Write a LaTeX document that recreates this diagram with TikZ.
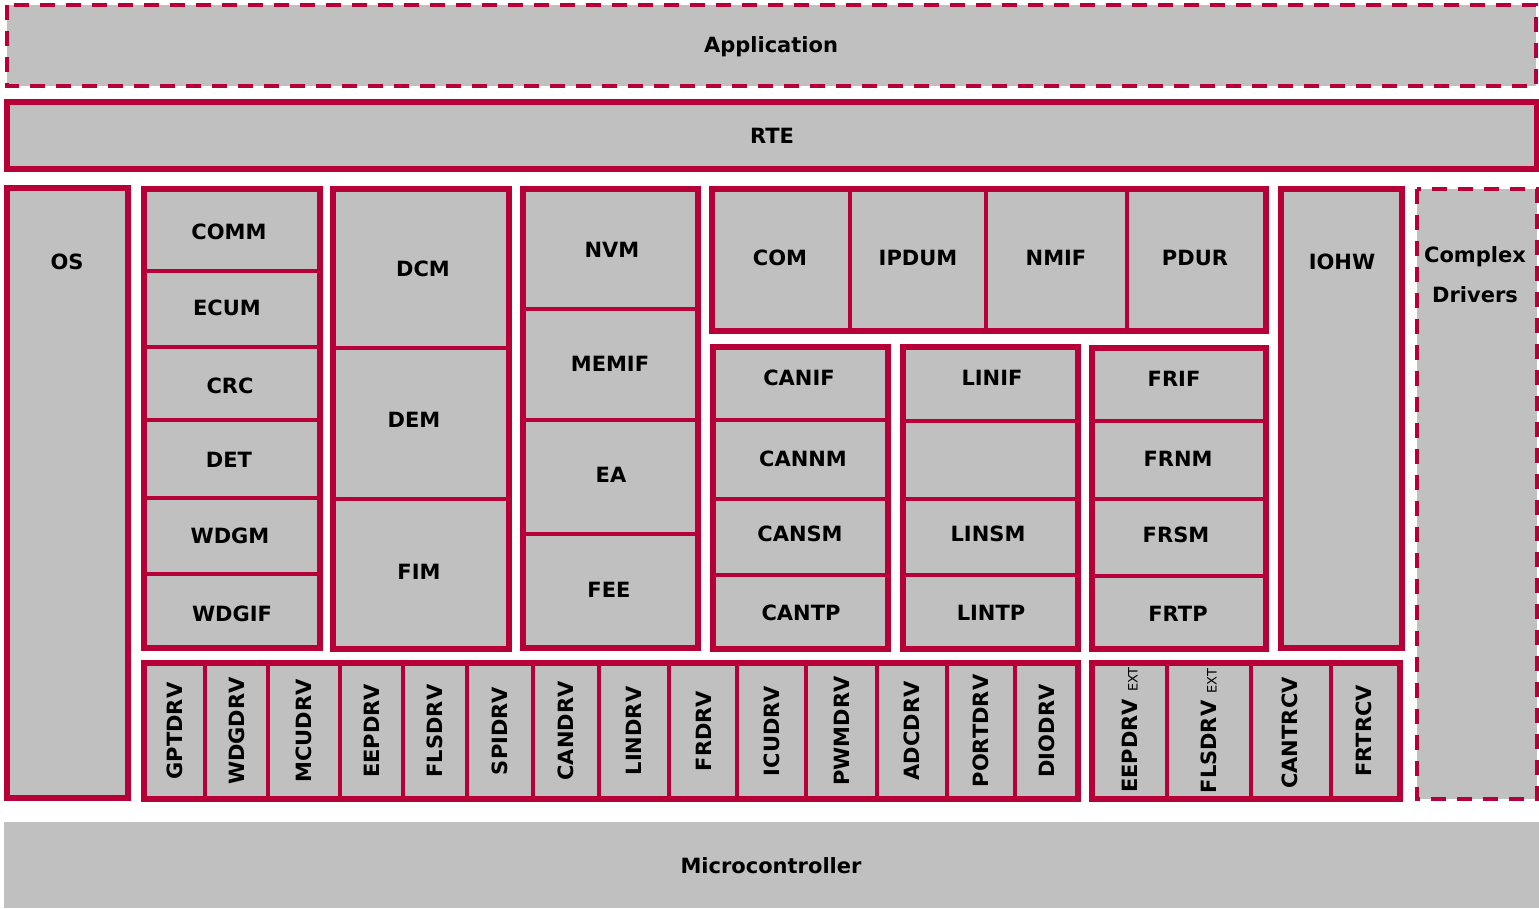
\documentclass[tikz,border=0pt]{standalone}
\usepackage{fontspec}
\setmainfont{DejaVu Sans}
\definecolor{crim}{RGB}{184,0,56}
\definecolor{boxgray}{RGB}{192,192,192}
\newcommand\extmark{\hspace{7pt}{\mdseries\fontsize{13}{14}\selectfont EXT}}
\begin{document}
\begin{tikzpicture}[x=1pt,y=-1pt,
  grp/.style={draw=crim, line width=5.5pt, fill=boxgray},
  frame/.style={draw=crim, line width=5.5pt},
  dsh/.style={draw=crim, line width=4pt, dash pattern=on 15pt off 11pt, fill=boxgray},
  divl/.style={draw=crim, line width=3.5pt},
  lbl/.style={font=\fontsize{21}{25}\selectfont\bfseries, text=black, inner sep=0pt},
  vlbl/.style={lbl, rotate=90}]
\useasboundingbox (0,0) rectangle (1539,909);

% Application
\path[dsh] (7,5) rectangle (1536,86);
\node[lbl] (app) at (771,47) {Application};
% RTE
\path[grp] (7,102) rectangle (1537,169);
\node[lbl] (rte) at (772,136) {RTE};
% OS
\path[grp] (7,188) rectangle (128,798);
\node[lbl] (os) at (67,262) {OS};

% Group: system services
\path[grp] (144,189) rectangle (320,648);
\foreach \y in {271,347,420,498,574} \draw[divl] (144,\y) -- (320,\y);
\path[frame] (144,189) rectangle (320,648);
\node[lbl] (comm) at (229,232) {COMM};
\node[lbl] (ecum) at (227,308) {ECUM};
\node[lbl] (crc) at (230,386) {CRC};
\node[lbl] (det) at (229,460) {DET};
\node[lbl] (wdgm) at (230,536) {WDGM};
\node[lbl] (wdgif) at (232,614) {WDGIF};

% Group: diagnostics
\path[grp] (333,189) rectangle (509,649);
\foreach \y in {348,499} \draw[divl] (333,\y) -- (509,\y);
\path[frame] (333,189) rectangle (509,649);
\node[lbl] (dcm) at (423,269) {DCM};
\node[lbl] (dem) at (414,420) {DEM};
\node[lbl] (fim) at (419,572) {FIM};

% Group: memory
\path[grp] (523,189) rectangle (698,648);
\foreach \y in {309,420,534} \draw[divl] (523,\y) -- (698,\y);
\path[frame] (523,189) rectangle (698,648);
\node[lbl] (nvm) at (612,250) {NVM};
\node[lbl] (memif) at (610,364) {MEMIF};
\node[lbl] (ea) at (611,475) {EA};
\node[lbl] (fee) at (609,590) {FEE};

% Group: communication services
\path[grp] (712,189) rectangle (1266,331);
\foreach \x in {850,986,1127} \draw[divl] (\x,189) -- (\x,331);
\path[frame] (712,189) rectangle (1266,331);
\node[lbl] (com) at (780,258) {COM};
\node[lbl] (ipdum) at (918,258) {IPDUM};
\node[lbl] (nmif) at (1056,258) {NMIF};
\node[lbl] (pdur) at (1195,258) {PDUR};

% Group: CAN
\path[grp] (713,347) rectangle (888,649);
\foreach \y in {420,499,575} \draw[divl] (713,\y) -- (888,\y);
\path[frame] (713,347) rectangle (888,649);
\node[lbl] (canif) at (799,378) {CANIF};
\node[lbl] (cannm) at (803,459) {CANNM};
\node[lbl] (cansm) at (800,534) {CANSM};
\node[lbl] (cantp) at (801,613) {CANTP};

% Group: LIN
\path[grp] (903,347) rectangle (1078,649);
\foreach \y in {421,499,575} \draw[divl] (903,\y) -- (1078,\y);
\path[frame] (903,347) rectangle (1078,649);
\node[lbl] (linif) at (992,378) {LINIF};
\node[lbl] (linsm) at (988,534) {LINSM};
\node[lbl] (lintp) at (991,613) {LINTP};

% Group: FlexRay
\path[grp] (1092,348) rectangle (1266,649);
\foreach \y in {421,499,576} \draw[divl] (1092,\y) -- (1266,\y);
\path[frame] (1092,348) rectangle (1266,649);
\node[lbl] (frif) at (1174,379) {FRIF};
\node[lbl] (frnm) at (1178,459) {FRNM};
\node[lbl] (frsm) at (1176,535) {FRSM};
\node[lbl] (frtp) at (1178,614) {FRTP};

% IOHW
\path[grp] (1281,189) rectangle (1402,648);
\node[lbl] (iohw) at (1342,262) {IOHW};

% Complex drivers
\path[dsh] (1417,189) rectangle (1537,799);
\node[lbl] (cdrv1) at (1475,257) {Complex};
\node[lbl] (cdrv2) at (1475,295) {Drivers};

% Driver row 1
\path[grp] (144,663) rectangle (1078,799);
\foreach \x in {205,268,340,403,467,533,599,669,737,806,877,947,1015} \draw[divl] (\x,663) -- (\x,799);
\path[frame] (144,663) rectangle (1078,799);
\node[vlbl] (gpt) at (174.5,731) {GPTDRV};
\node[vlbl] (wdg) at (236.5,731) {WDGDRV};
\node[vlbl] (mcu) at (304,731) {MCUDRV};
\node[vlbl] (eep) at (371.5,731) {EEPDRV};
\node[vlbl] (fls) at (435,731) {FLSDRV};
\node[vlbl] (spi) at (500,731) {SPIDRV};
\node[vlbl] (can) at (566,731) {CANDRV};
\node[vlbl] (lin) at (634,731) {LINDRV};
\node[vlbl] (fr) at (704,731) {FRDRV};
\node[vlbl] (icu) at (771.5,731) {ICUDRV};
\node[vlbl] (pwm) at (841.5,731) {PWMDRV};
\node[vlbl] (adc) at (912,731) {ADCDRV};
\node[vlbl] (port) at (981,731) {PORTDRV};
\node[vlbl] (dio) at (1046.5,731) {DIODRV};

% Driver row 2
\path[grp] (1092,663) rectangle (1400,799);
\foreach \x in {1167,1251,1331} \draw[divl] (\x,663) -- (\x,799);
\path[frame] (1092,663) rectangle (1400,799);
\node[vlbl] (eepx) at (1130,730) {EEPDRV\extmark};
\node[vlbl] (flsx) at (1209,731) {FLSDRV\extmark};
\node[vlbl] (cantrcv) at (1290,733) {CANTRCV};
\node[vlbl] (frtrcv) at (1364,731) {FRTRCV};

% Microcontroller
\path[fill=boxgray] (4,822) rectangle (1539,908);
\node[lbl] (mcu2) at (771,866) {Microcontroller};
\end{tikzpicture}
\end{document}
